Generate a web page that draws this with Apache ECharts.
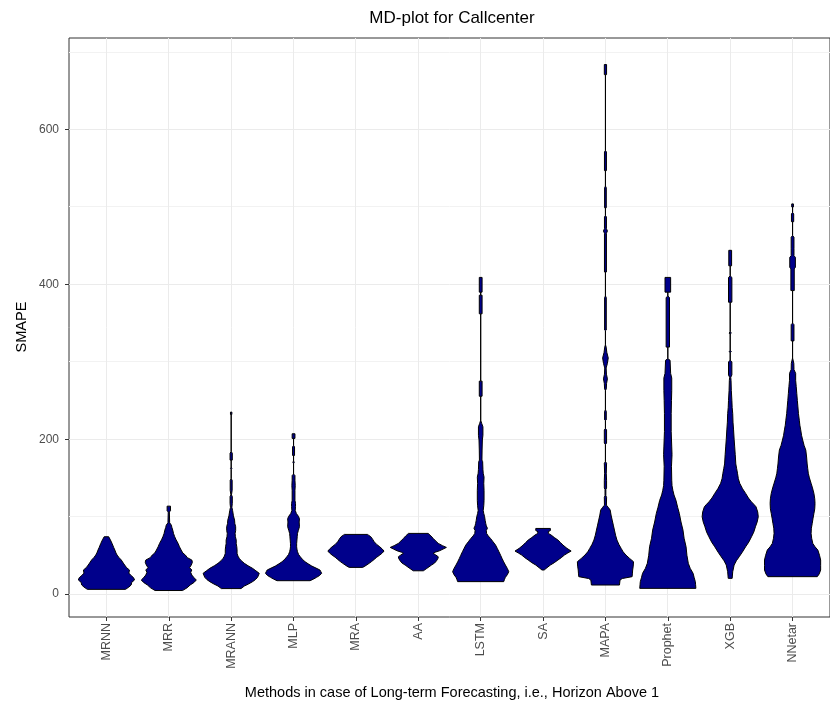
<!DOCTYPE html>
<html>
<head>
<meta charset="utf-8">
<title>MD-plot for Callcenter</title>
<script src="https://cdn.jsdelivr.net/npm/echarts@6/dist/echarts.min.js"></script>
<style>
  html, body { margin: 0; padding: 0; background: #ffffff; }
  #chart { width: 830px; height: 708px; }
</style>
</head>
<body>
<div id="chart"></div>
<script>
// Forecasting methods, in plotting order
const methods = ['MRNN', 'MRR', 'MRANN', 'MLP', 'MRA', 'AA', 'LSTM', 'SA', 'MAPA', 'Prophet', 'XGB', 'NNetar'];

// Mirrored density profiles: [SMAPE, relative density (1 = widest part of that method)]
const densityMRNN = [[6,0.68],[9,0.8],[11.6,0.88],[15,0.9],[18.1,1.0],[21,0.97],[24.5,0.86],[27,0.8],[31,0.82],[34,0.72],[37.4,0.65],[40,0.6],[43.9,0.53],[47,0.45],[50.3,0.38],[53,0.34],[56.8,0.3],[60,0.26],[65.4,0.2],[70,0.14],[74,0.08]];
const densityMRR = [[4.5,0.49],[8,0.65],[11.6,0.76],[15,0.9],[18.1,0.98],[21,0.9],[24.5,0.82],[28,0.78],[31,0.82],[34,0.74],[37.4,0.8],[41,0.84],[43.9,0.82],[47,0.66],[50.3,0.59],[53,0.5],[56.8,0.44],[61,0.38],[65.4,0.33],[70,0.26],[74,0.21],[78,0.17],[82.6,0.14],[86,0.11],[89,0.09],[92,0.03],[106,0.02],[107.5,0.06],[113.5,0.06]];
const densityMRANN = [[7,0.35],[10.3,0.47],[13,0.62],[15.9,0.76],[18.5,0.86],[21.5,0.94],[26.7,1.0],[30,0.88],[33.2,0.76],[36.5,0.6],[39.6,0.47],[43,0.36],[46,0.29],[49,0.24],[52.5,0.21],[57,0.21],[61,0.2],[65,0.18],[69.7,0.18],[74,0.15],[78.3,0.14],[82,0.16],[86.9,0.16],[91,0.13],[95.5,0.12],[101,0.08],[108,0.05],[112,0.025],[117,0.04],[126,0.04],[128,0.01],[134,0.035],[147,0.035],[149,0],[161,0],[162,0.025],[164,0],[173,0],[173,0.04],[182,0.04],[184,0],[232,0],[232,0.025],[235,0.025]];
const densityMLP = [[17.2,0.59],[19.5,0.72],[21.5,0.82],[24,0.93],[26.7,1.0],[29,0.97],[31,0.94],[33.5,0.8],[36.1,0.65],[39,0.52],[41.7,0.41],[45,0.31],[48.1,0.24],[51,0.18],[54.6,0.14],[58,0.12],[61,0.11],[65,0.11],[69.7,0.12],[74,0.13],[78.3,0.14],[82,0.17],[87,0.21],[93,0.2],[97,0.21],[100,0.18],[104,0.1],[108,0.06],[113,0.07],[117,0.07],[121,0.05],[134,0.05],[140,0.06],[147,0.05],[153,0.05],[155,0],[169,0],[170,0.025],[172,0],[179,0],[179,0.035],[190,0.035],[192,0],[201,0],[201,0.05],[207,0.05]];
const densityMRA = [[34.4,0.24],[36,0.32],[39.6,0.47],[42,0.56],[44.7,0.65],[47.5,0.74],[50.3,0.85],[53,0.94],[55.5,1.0],[58,0.94],[61,0.85],[64,0.74],[67.5,0.65],[70.5,0.6],[74,0.53],[76,0.45],[77,0.41]];
const densityAA = [[30,0.18],[33,0.3],[37.4,0.47],[40,0.58],[43,0.65],[46,0.7],[48.1,0.71],[50.5,0.62],[52.5,0.53],[54,0.6],[55.9,0.76],[58,0.88],[60.2,1.0],[62.5,0.86],[65.4,0.71],[68.5,0.62],[71.8,0.53],[75,0.45],[78.3,0.35]];
const densityLSTM = [[16,0.82],[19,0.85],[21.5,0.88],[25,0.95],[28.8,1.0],[33,0.95],[37.4,0.88],[41.5,0.82],[46,0.76],[50,0.71],[54.6,0.65],[59,0.59],[63.2,0.53],[67.5,0.44],[71.8,0.35],[75,0.27],[78.3,0.21],[82,0.2],[85,0.24],[88,0.2],[91.2,0.18],[95,0.16],[99.8,0.14],[104,0.11],[108,0.09],[114,0.11],[121,0.12],[134,0.12],[143,0.11],[151,0.12],[156,0.09],[161,0.08],[171,0.07],[173,0.045],[186,0.05],[199,0.06],[205,0.08],[216,0.08],[220,0.04],[224.5,0],[255.5,0],[255.5,0.05],[275,0.05],[275,0],[362,0],[362,0.05],[386,0.05],[386,0],[390,0],[390,0.05],[409,0.05]];
const densitySA = [[31,0.04],[34,0.14],[37.4,0.26],[40.5,0.4],[43.9,0.53],[47,0.65],[50.3,0.76],[53,0.88],[55.5,1.0],[59,0.85],[63.2,0.71],[66.5,0.62],[69.7,0.53],[73,0.4],[76.1,0.29],[78,0.2],[80.4,0.18],[82,0.26],[84.7,0.26]];
const densityMAPA = [[11.6,0.5],[18.1,0.52],[20,0.6],[22.4,0.95],[26,0.96],[31,0.97],[36,0.99],[41.7,1.0],[46,0.86],[50.3,0.73],[54.5,0.63],[58.9,0.56],[64,0.48],[69.7,0.41],[76,0.36],[82.6,0.32],[89,0.28],[95.5,0.24],[102,0.2],[108.4,0.17],[112,0.1],[114.8,0.035],[125,0.04],[127,0.015],[135,0.015],[137,0.04],[147,0.04],[156,0.03],[169,0.04],[171,0],[193,0],[195,0.04],[212,0.04],[214,0],[224,0],[225,0.03],[236,0.03],[238,0],[263,0],[265,0.03],[272,0.04],[278,0.07],[284,0.035],[292,0.025],[298,0.07],[305,0.1],[312,0.05],[319,0.025],[322,0],[340,0],[341,0.03],[383,0.03],[385,0],[416,0],[416,0.035],[466,0.035],[469,0.07],[472,0.035],[487,0.035],[489,0],[499,0],[499,0.03],[525,0.03],[527,0],[547,0],[547,0.035],[571,0.035],[573,0],[671,0],[671,0.04],[684,0.04]];
const densityProphet = [[7.3,1.0],[12,0.99],[15.9,0.98],[21,0.94],[26.7,0.9],[33,0.8],[39.6,0.73],[50,0.68],[61,0.65],[72,0.58],[82.6,0.54],[93,0.47],[104,0.41],[112,0.35],[121,0.29],[128,0.22],[134,0.18],[140,0.15],[147,0.14],[165,0.13],[180,0.15],[190,0.14],[210,0.12],[233,0.12],[250,0.13],[263,0.14],[279,0.14],[285,0.1],[302,0.08],[304,0],[319,0],[319,0.06],[383,0.06],[385,0],[390,0],[390,0.1],[409,0.1]];
const densityXGB = [[20.2,0.07],[28.8,0.09],[37.4,0.14],[43,0.22],[48.1,0.32],[54,0.43],[61,0.55],[67,0.66],[74,0.76],[80,0.84],[86.9,0.9],[93,0.96],[99.8,1.0],[106,0.98],[112.7,0.92],[116,0.84],[119,0.76],[124,0.65],[130,0.55],[136,0.44],[143,0.34],[149,0.29],[156,0.26],[162,0.23],[168,0.2],[180,0.18],[190,0.16],[200,0.14],[212,0.12],[222,0.1],[233,0.09],[241,0.07],[250,0.06],[263,0.04],[276,0.03],[280,0.02],[283,0.06],[300,0.06],[302,0],[312,0],[313,0.04],[315,0],[336,0],[337,0.04],[339,0],[377,0],[377,0.06],[409,0.06],[411,0],[424,0],[424,0.05],[444,0.05]];
const densityNNetar = [[22.4,0.88],[26,0.95],[31,1.0],[37,1.0],[43.9,1.0],[50,0.96],[56.8,0.9],[61,0.8],[65.4,0.72],[72,0.68],[78.3,0.66],[85,0.67],[91.2,0.7],[98,0.73],[104,0.76],[110,0.79],[117,0.8],[123,0.79],[130,0.76],[137,0.71],[143,0.66],[150,0.6],[156,0.56],[162,0.54],[168,0.52],[177,0.5],[186,0.47],[192,0.41],[199,0.36],[205,0.32],[212,0.29],[218,0.26],[224.5,0.24],[233,0.21],[241.7,0.19],[250,0.17],[259,0.15],[268,0.13],[276,0.11],[285,0.11],[290,0.05],[298,0.045],[305,0],[327,0],[327,0.05],[348,0.05],[350,0],[392,0],[392,0.06],[420,0.06],[422,0.1],[435,0.1],[437,0.05],[446,0.05],[461,0.05],[463,0],[481,0],[481,0.04],[491,0.04],[493,0],[500,0],[500,0.03],[504,0.03]];

// Axis ticks and grid lines
const yTickValues = [0, 200, 400, 600];
const yMinorValues = [100, 300, 500, 700];

const profiles = [densityMRNN, densityMRR, densityMRANN, densityMLP, densityMRA, densityAA,
                  densityLSTM, densitySA, densityMAPA, densityProphet, densityXGB, densityNNetar];

const FONT = "'Liberation Sans', Arial, sans-serif";
const HALF_WIDTH = 0.45;   // widest violin spans 90% of a category slot
const methodIndex = methods.map((m, i) => i);

const chart = echarts.init(document.getElementById('chart'), null, { renderer: 'canvas' });

// Panel grid lines (drawn below the violins, snapped to whole pixels)
function renderPanelGrid(params, api) {
  const cs = params.coordSys;
  const children = [];
  const hLine = (v, color) => {
    const y = Math.floor(api.coord([0, v])[1]) + 0.5;
    children.push({ type: 'line', shape: { x1: cs.x, y1: y, x2: cs.x + cs.width, y2: y },
                    style: { stroke: color, lineWidth: 1 } });
  };
  yMinorValues.forEach(v => hLine(v, '#F2F2F2'));
  yTickValues.forEach(v => hLine(v, '#EBEBEB'));
  methodIndex.forEach(i => {
    const x = Math.floor(api.coord([i, 0])[0]) + 0.5;
    children.push({ type: 'line', shape: { x1: x, y1: cs.y, x2: x, y2: cs.y + cs.height },
                    style: { stroke: '#EBEBEB', lineWidth: 1 } });
  });
  return { type: 'group', children: children, silent: true };
}

// One mirrored density polygon per method
function renderViolin(params, api) {
  const i = api.value(0);
  const prof = profiles[i];
  const right = prof.map(p => api.coord([i + p[1] * HALF_WIDTH, p[0]]));
  const left = prof.slice().reverse().map(p => api.coord([i - p[1] * HALF_WIDTH, p[0]]));
  return {
    type: 'polygon',
    shape: { points: right.concat(left) },
    style: { fill: '#00008B', stroke: '#000000', lineWidth: 1, lineJoin: 'miter' }
  };
}

chart.setOption({
  animation: false,
  backgroundColor: '#ffffff',
  title: {
    text: 'MD-plot for Callcenter',
    left: 452,
    top: 10,
    padding: 0,
    textAlign: 'center',
    textStyle: { fontFamily: FONT, fontSize: 17, fontWeight: 'normal', color: '#000000' }
  },
  grid: {
    left: 69, top: 38, width: 766, bottom: 91,
    show: true, borderColor: '#333333', borderWidth: 1, backgroundColor: '#ffffff',
    containLabel: false
  },
  xAxis: {
    type: 'value',
    min: -0.6, max: 11.6,
    axisLine: { show: false, onZero: false },
    splitLine: { show: false },
    axisTick: { show: true, customValues: methodIndex, length: 4, lineStyle: { color: '#333333', width: 1 } },
    axisLabel: {
      customValues: methodIndex,
      formatter: v => methods[Math.round(v)],
      rotate: 90, margin: 6,
      color: '#4D4D4D', fontFamily: FONT, fontSize: 12.5
    }
  },
  yAxis: {
    type: 'value',
    min: -29.7, max: 718.3,
    axisLine: { show: false, onZero: false },
    splitLine: { show: false },
    axisTick: { show: true, customValues: yTickValues, length: 4, lineStyle: { color: '#333333', width: 1 } },
    axisLabel: {
      customValues: yTickValues,
      margin: 10,
      color: '#4D4D4D', fontFamily: FONT, fontSize: 12
    }
  },
  graphic: [
    {
      type: 'text', x: 452, y: 693,
      style: { text: 'Methods in case of Long-term Forecasting, i.e., Horizon Above 1',
               x: 0, y: 0, textAlign: 'center', textVerticalAlign: 'middle',
               fontFamily: FONT, fontSize: 14.5, fill: '#000000' }
    },
    {
      type: 'text', x: 22, y: 327, rotation: Math.PI / 2,
      style: { text: 'SMAPE', x: 0, y: 0, textAlign: 'center', textVerticalAlign: 'middle',
               fontFamily: FONT, fontSize: 14.5, fill: '#000000' }
    }
  ],
  series: [
    {
      type: 'custom',
      name: 'grid',
      renderItem: renderPanelGrid,
      data: [[0, 0]],
      encode: { x: 0, y: 1 },
      silent: true,
      z: 1
    },
    {
      type: 'custom',
      name: 'SMAPE density',
      renderItem: renderViolin,
      data: methodIndex.map(i => [i, 0]),
      encode: { x: 0, y: 1 },
      z: 2
    }
  ]
});
</script>
</body>
</html>
